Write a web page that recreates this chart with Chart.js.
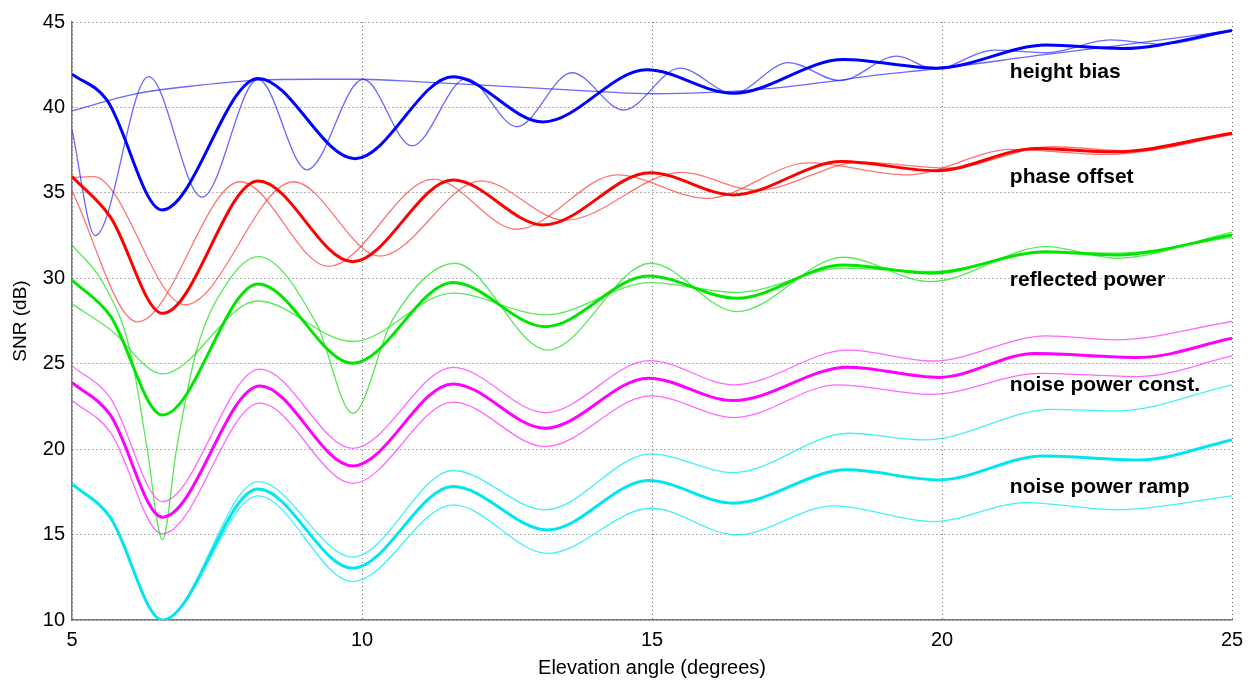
<!DOCTYPE html>
<html>
<head>
<meta charset="utf-8">
<script src="https://cdn.jsdelivr.net/npm/chart.js@4"></script>
<style>
  body { margin: 0; background: #fff; }
  #wrap { width: 1257px; height: 683px; }
</style>
</head>
<body>
<div id="wrap"><canvas id="snr-chart"></canvas></div>
<script>
// height bias (blue)
const hbThickX = [5, 5.6, 6.55, 8.21, 9.88, 11.57, 13.12, 14.91, 16.4, 18.3, 19.9, 21.8, 23.1, 25];
const hbThickY = [41.95, 40.44, 34.0, 41.7, 37.0, 41.8, 39.15, 42.2, 40.83, 42.8, 42.3, 43.65, 43.45, 44.5];
const hbFastX = [5, 5.4, 6.32, 7.24, 8.21, 9.05, 10.02, 10.86, 11.8, 12.67, 13.62, 14.51, 15.48, 16.4, 17.35, 18.24, 19.22, 19.87, 20.9, 21.8, 22.9, 23.8, 25];
const hbFastY = [38.7, 32.5, 41.8, 34.75, 41.65, 36.35, 41.65, 37.75, 41.7, 38.87, 42.03, 39.85, 42.3, 40.83, 42.62, 41.57, 43.0, 42.25, 43.35, 43.2, 43.95, 43.7, 44.5];
const hbSlowX = [5, 6.06, 7.2, 8.2, 9.2, 10.0, 11.0, 12.38, 14.1, 15.0, 16.1, 17.0, 17.9, 18.9, 19.87, 21.8, 23.0, 25];
const hbSlowY = [39.8, 40.77, 41.3, 41.6, 41.65, 41.65, 41.5, 41.25, 40.93, 40.8, 40.9, 41.1, 41.45, 41.9, 42.25, 43.1, 43.6, 44.5];

// phase offset (red)
const poThickX = [5, 5.66, 6.56, 8.21, 9.84, 11.57, 13.13, 14.97, 16.4, 18.27, 19.9, 21.63, 22.95, 25];
const poThickY = [35.95, 33.6, 27.95, 35.7, 30.97, 35.75, 33.12, 36.18, 34.88, 36.83, 36.3, 37.6, 37.4, 38.49];
const poLeadX = [5, 6.13, 7.9, 9.42, 11.23, 12.67, 14.4, 15.94, 17.7, 19.4, 21.2, 22.8, 25];
const poLeadY = [35.1, 27.45, 35.65, 30.7, 35.8, 32.87, 36.05, 34.68, 36.75, 36.05, 37.55, 37.25, 38.4];
const poLagX = [5, 5.37, 6.95, 8.82, 10.31, 12.05, 13.5, 15.5, 16.8, 18.6, 20.1, 21.9, 23.3, 25];
const poLagY = [35.9, 35.95, 28.45, 35.65, 31.3, 35.7, 33.4, 36.2, 35.15, 36.8, 36.45, 37.7, 37.45, 38.45];

// reflected power (green)
const rpThickX = [5, 5.66, 6.56, 8.21, 9.84, 11.57, 13.16, 14.94, 16.46, 18.3, 19.8, 21.8, 23.0, 25];
const rpThickY = [29.9, 27.8, 22.0, 29.67, 25.03, 29.75, 27.17, 30.14, 28.83, 30.78, 30.3, 31.56, 31.37, 32.53];
const rpBigX = [5, 5.54, 6.0, 6.29, 6.56, 6.8, 7.15, 7.67, 8.21, 9.22, 9.84, 10.53, 11.6, 13.2, 14.98, 16.46, 18.3, 19.8, 21.8, 23.0, 25];
const rpBigY = [31.95, 29.7, 25.8, 20.15, 14.7, 19.96, 25.8, 29.7, 31.27, 27.3, 22.1, 27.6, 30.88, 25.8, 30.88, 28.05, 31.23, 29.8, 31.85, 31.17, 32.7];
const rpSmallX = [5, 5.66, 6.56, 8.2, 9.84, 11.57, 13.16, 14.98, 16.46, 18.3, 19.8, 21.8, 23.0, 25];
const rpSmallY = [28.5, 27.0, 24.4, 28.67, 26.3, 29.13, 27.86, 29.75, 29.17, 30.59, 30.4, 31.5, 31.47, 32.4];

// noise power const. (magenta)
const npcThickX = [5, 5.66, 6.56, 8.24, 9.84, 11.57, 13.16, 14.94, 16.4, 18.38, 19.95, 21.6, 23.4, 25];
const npcThickY = [23.9, 22.0, 16.02, 23.7, 19.02, 23.82, 21.23, 24.15, 22.84, 24.8, 24.2, 25.6, 25.37, 26.49];
const npcHighX = [5, 5.66, 6.56, 8.24, 9.84, 11.57, 13.16, 14.96, 16.42, 18.38, 19.84, 21.8, 23.0, 25];
const npcHighY = [24.87, 23.0, 16.93, 24.68, 20.05, 24.78, 22.14, 25.18, 23.76, 25.8, 25.16, 26.63, 26.4, 27.47];
const npcLowX = [5, 5.66, 6.56, 8.24, 9.84, 11.57, 13.16, 14.98, 16.42, 18.2, 19.8, 21.7, 23.4, 25];
const npcLowY = [22.84, 21.0, 15.04, 22.69, 18.0, 22.75, 20.15, 23.12, 21.85, 23.76, 23.21, 24.44, 24.25, 25.46];

// noise power ramp (cyan)
const nprThickX = [5, 5.66, 6.56, 8.21, 9.84, 11.57, 13.2, 14.94, 16.4, 18.36, 19.95, 21.74, 23.4, 25];
const nprThickY = [17.97, 16.0, 10.0, 17.66, 13.03, 17.81, 15.27, 18.16, 16.84, 18.79, 18.2, 19.6, 19.37, 20.54];
const nprHighX = [5, 5.66, 6.56, 8.21, 9.84, 11.57, 13.16, 14.98, 16.4, 18.4, 19.7, 21.9, 23.0, 25];
const nprHighY = [17.97, 16.0, 10.0, 18.1, 13.68, 18.75, 16.45, 19.72, 18.63, 20.93, 20.54, 22.33, 22.24, 23.76];
const nprLowX = [5, 5.66, 6.56, 8.21, 9.84, 11.57, 13.2, 14.98, 16.46, 18.13, 19.84, 21.45, 23.0, 25];
const nprLowY = [17.97, 16.0, 10.0, 17.26, 12.25, 16.74, 13.9, 16.54, 14.98, 16.68, 15.76, 16.87, 16.45, 17.26];

// texto das curvas (posição em graus / dB)
const curveNames = ['height bias', 'phase offset', 'reflected power', 'noise power const.', 'noise power ramp'];
const curveNameX = [21.17, 21.17, 21.17, 21.17, 21.17];
const curveNameY = [42.07, 35.93, 29.9, 23.76, 17.79];

const font = "'Liberation Sans', Arial, sans-serif";

function pts(xs, ys) {
  return xs.map((x, i) => ({ x: x, y: ys[i] }));
}

function line(xs, ys, color, thick) {
  return {
    data: pts(xs, ys),
    borderColor: color,
    borderWidth: thick ? 3 : 1.3,
    pointRadius: 0,
    cubicInterpolationMode: 'monotone',
    fill: false,
    order: thick ? 0 : 1
  };
}

const datasets = [
  line(hbThickX, hbThickY, 'rgb(0,0,255)', true),
  line(hbFastX, hbFastY, 'rgba(40,40,255,0.7)', false),
  line(hbSlowX, hbSlowY, 'rgba(40,40,255,0.7)', false),
  line(poThickX, poThickY, 'rgb(255,0,0)', true),
  line(poLeadX, poLeadY, 'rgba(255,40,40,0.65)', false),
  line(poLagX, poLagY, 'rgba(255,40,40,0.65)', false),
  line(rpThickX, rpThickY, 'rgb(0,230,0)', true),
  line(rpBigX, rpBigY, 'rgba(30,225,30,0.75)', false),
  line(rpSmallX, rpSmallY, 'rgba(30,225,30,0.75)', false),
  line(npcThickX, npcThickY, 'rgb(255,0,255)', true),
  line(npcHighX, npcHighY, 'rgba(255,40,255,0.7)', false),
  line(npcLowX, npcLowY, 'rgba(255,40,255,0.7)', false),
  line(nprThickX, nprThickY, 'rgb(0,230,240)', true),
  line(nprHighX, nprHighY, 'rgba(0,235,245,0.75)', false),
  line(nprLowX, nprLowY, 'rgba(0,235,245,0.75)', false)
];

// escreve os nomes das curvas dentro do gráfico
const curveLabels = {
  id: 'curveLabels',
  afterDatasetsDraw(chart) {
    const ctx = chart.ctx;
    const xs = chart.scales.x, ys = chart.scales.y;
    ctx.save();
    ctx.fillStyle = '#000';
    ctx.font = 'bold 21px ' + font;
    ctx.textBaseline = 'middle';
    ctx.textAlign = 'left';
    curveNames.forEach((name, i) => {
      ctx.fillText(name, xs.getPixelForValue(curveNameX[i]), ys.getPixelForValue(curveNameY[i]));
    });
    ctx.restore();
  }
};

const gridOpts = { color: 'rgba(0,0,0,0.6)', lineWidth: 1, drawTicks: false };
const borderOpts = { display: true, color: '#777', width: 1.5, dash: [1, 3] };

new Chart(document.getElementById('snr-chart'), {
  type: 'line',
  data: { datasets: datasets },
  options: {
    responsive: true,
    maintainAspectRatio: false,
    animation: false,
    layout: { padding: { top: 22, right: 25, left: 0, bottom: 0 } },
    plugins: { legend: { display: false }, tooltip: { enabled: false } },
    scales: {
      x: {
        type: 'linear',
        min: 5, max: 25,
        grid: gridOpts,
        border: borderOpts,
        ticks: { stepSize: 5, padding: 8, color: '#000', font: { family: font, size: 20 } },
        title: { display: true, text: 'Elevation angle (degrees)', color: '#000',
                 font: { family: font, size: 20 }, padding: { top: 0, bottom: 3 } },
        afterFit(scale) { scale.height = 63; }
      },
      y: {
        type: 'linear',
        min: 10, max: 45,
        grid: gridOpts,
        border: borderOpts,
        ticks: { stepSize: 5, padding: 7, color: '#000', font: { family: font, size: 20 } },
        title: { display: true, text: 'SNR (dB)', color: '#000',
                 font: { family: font, size: 19 }, padding: { top: 9, bottom: 0 } },
        afterFit(scale) { scale.width = 72; }
      }
    }
  },
  plugins: [curveLabels]
});
</script>
</body>
</html>
